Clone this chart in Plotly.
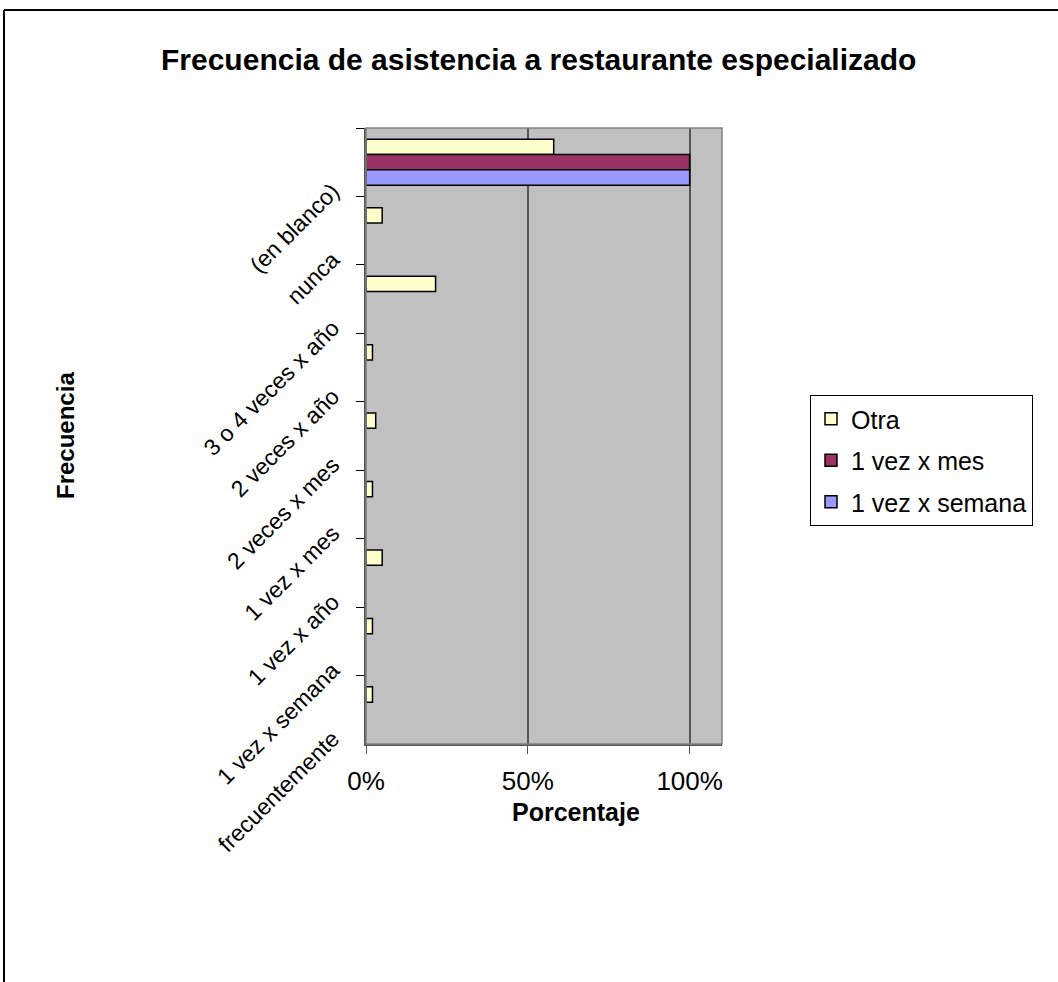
import plotly.graph_objects as go

categories = ["(en blanco)", "nunca", "3 o 4 veces x año", "2 veces x año",
              "2 veces x mes", "1 vez x mes", "1 vez x año", "1 vez x semana",
              "frecuentemente"]
otra = [58, 5, 21.5, 2, 3, 2, 5, 2, 2]
una_vez_mes = [100, None, None, None, None, None, None, None, None]
una_vez_semana = [100, None, None, None, None, None, None, None, None]
x_ticks = [0, 50, 100]
x_tick_labels = ["0%", "50%", "100%"]

FONT = "Liberation Sans, Arial, sans-serif"
W, H = 1058, 982
L, R, T, B = 366, 722, 128, 744
pw, ph = R - L, B - T

def px(x):
    return (x - L) / pw

def py(y):
    return 1 - (y - T) / ph

fig = go.Figure()
series = [("Otra", otra, "#FFFFCC"), ("1 vez x mes", una_vez_mes, "#993366"),
          ("1 vez x semana", una_vez_semana, "#9999FF")]
for i, (name, vals, col) in enumerate(series):
    fig.add_trace(go.Bar(y=categories, x=vals, name=name, orientation="h",
                         legendgroup=f"g{i}",
                         marker=dict(color=col, line=dict(color="black", width=1.5))))

fig.update_layout(
    width=W, height=H,
    margin=dict(l=L, r=W - R, t=T, b=H - B),
    paper_bgcolor="white", plot_bgcolor="#C0C0C0",
    barmode="group", bargap=0.33, bargroupgap=0,
    font=dict(family=FONT, size=24, color="black"),
    showlegend=True,
    legend=dict(x=px(810), y=py(395), xanchor="left", yanchor="top",
                bordercolor="black", borderwidth=1, bgcolor="white",
                font=dict(size=25), traceorder="grouped", tracegroupgap=6),
    xaxis=dict(range=[0, 110], tickvals=x_ticks, ticktext=x_tick_labels,
               showgrid=True, gridcolor="#555555", gridwidth=1.5,
               showline=True, linecolor="#555555", linewidth=1.5,
               ticks="outside", ticklen=8, tickcolor="#555555",
               ticklabelstandoff=5,
               zeroline=False, tickfont=dict(size=26)),
    yaxis=dict(type="category", categoryorder="array", categoryarray=categories,
               autorange="reversed", tickson="boundaries",
               ticks="outside", ticklen=8, tickcolor="black",
               showline=True, linecolor="#555555", linewidth=1.5,
               showgrid=False, tickangle=-45, ticklabelshift=-26,
               ticklabelstandoff=27,
               tickfont=dict(size=23)),
)

# plot-area border (top/right)
fig.add_shape(type="rect", xref="paper", yref="paper", x0=0, x1=1, y0=0, y1=1,
              line=dict(color="#808080", width=1.5), layer="above")
# outer chart frame (extends beyond the picture)
fig.add_shape(type="line", xref="paper", yref="paper", x0=px(4), x1=px(4),
              y0=py(10), y1=py(1100), line=dict(color="black", width=2))
fig.add_shape(type="line", xref="paper", yref="paper", x0=px(4), x1=px(1200),
              y0=py(10), y1=py(10), line=dict(color="black", width=2))

fig.add_annotation(text="<b>Frecuencia de asistencia a restaurante especializado</b>",
                   xref="paper", yref="paper", x=px(538.5), y=py(60),
                   showarrow=False, font=dict(size=30), xanchor="center", yanchor="middle")
fig.add_annotation(text="<b>Frecuencia</b>", xref="paper", yref="paper",
                   x=px(65), y=py(436), showarrow=False, textangle=-90,
                   font=dict(size=24), xanchor="center", yanchor="middle")
fig.add_annotation(text="<b>Porcentaje</b>", xref="paper", yref="paper",
                   x=px(576), y=py(812), showarrow=False,
                   font=dict(size=25), xanchor="center", yanchor="middle")

fig.write_html("out.html")
